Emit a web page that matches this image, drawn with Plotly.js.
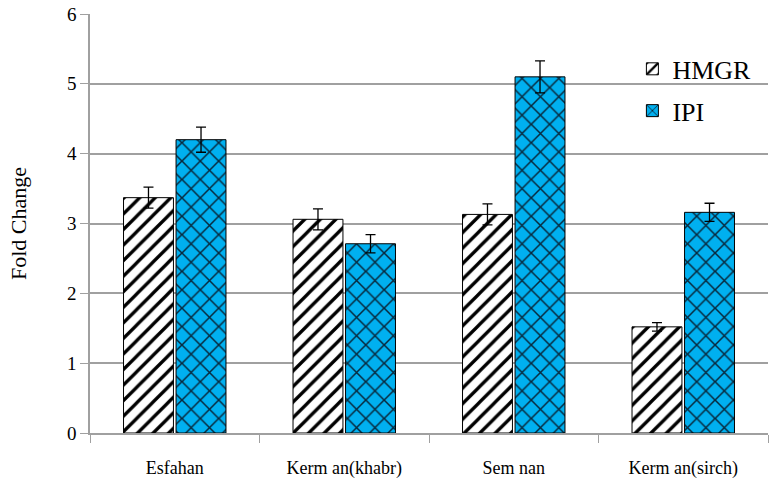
<!DOCTYPE html>
<html>
<head>
<meta charset="utf-8">
<script src="https://cdn.plot.ly/plotly-3.0.1.min.js"></script>
<style>
  body { margin: 0; background: #fff; }
  #chart { width: 774px; height: 484px; }
</style>
</head>
<body>
<div id="chart"></div>
<script>
// regions on the x axis
var sites = ['Esfahan', 'Kerm an(khabr)', 'Sem nan', 'Kerm an(sirch)'];

// fold change values
var hmgr = [3.37, 3.06, 3.13, 1.52];
var hmgrErr = [0.15, 0.15, 0.15, 0.06];
var ipi = [4.2, 2.71, 5.1, 3.16];
var ipiErr = [0.18, 0.13, 0.23, 0.13];

var serif = 'Liberation Serif';

var traceHMGR = {
    x: sites,
    y: hmgr,
    type: 'bar',
    name: 'HMGR',
    legendgroup: 'a',
    marker: {
        color: '#ffffff',
        line: { color: '#000000', width: 1 },
        pattern: { shape: '/', fgcolor: '#000000', bgcolor: '#ffffff', size: 11, solidity: 0.3 }
    },
    error_y: { type: 'data', array: hmgrErr, visible: true, color: '#000000', thickness: 1.3, width: 5 }
};

var traceIPI = {
    x: sites,
    y: ipi,
    type: 'bar',
    name: 'IPI',
    legendgroup: 'b',
    marker: {
        color: '#00b0f0',
        line: { color: '#000000', width: 1 },
        pattern: { shape: 'x', fgcolor: '#08283c', bgcolor: '#00b0f0', size: 13, solidity: 0.22 }
    },
    error_y: { type: 'data', array: ipiErr, visible: true, color: '#000000', thickness: 1.3, width: 5 }
};

var layout = {
    width: 774,
    height: 484,
    paper_bgcolor: '#ffffff',
    plot_bgcolor: '#ffffff',
    margin: { l: 90, r: 6, t: 14, b: 51 },
    barmode: 'group',
    bargap: 0.38,
    bargroupgap: 0.05,
    font: { family: serif, color: '#000000' },
    xaxis: {
        showline: true,
        linecolor: '#a0a0a0',
        linewidth: 1.5,
        ticks: 'outside',
        tickson: 'boundaries',
        ticklen: 8,
        tickcolor: '#a0a0a0',
        ticklabelstandoff: 18,
        tickfont: { family: serif, size: 18 },
        showgrid: false
    },
    yaxis: {
        range: [0, 6],
        dtick: 1,
        showline: true,
        linecolor: '#a0a0a0',
        linewidth: 1.5,
        ticks: 'outside',
        ticklen: 8,
        tickcolor: '#a0a0a0',
        tickfont: { family: serif, size: 19 },
        gridcolor: '#a0a0a0',
        gridwidth: 1.5,
        zeroline: false,
        title: { text: 'Fold Change', font: { family: serif, size: 22 }, standoff: 34 }
    },
    legend: {
        x: 0.8,
        y: 0.925,
        xanchor: 'left',
        yanchor: 'top',
        traceorder: 'grouped',
        tracegroupgap: 5,
        itemwidth: 30,
        font: { family: serif, size: 26 },
        bgcolor: 'rgba(0,0,0,0)'
    },
    showlegend: true
};

Plotly.newPlot('chart', [traceHMGR, traceIPI], layout, { displayModeBar: false });
</script>
</body>
</html>
